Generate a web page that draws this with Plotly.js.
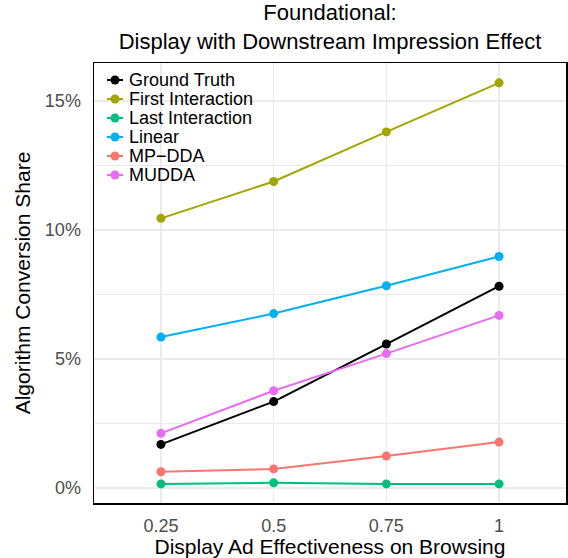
<!DOCTYPE html>
<html>
<head>
<meta charset="utf-8">
<script src="https://cdn.plot.ly/plotly-3.0.1.min.js"></script>
<style>html,body{margin:0;padding:0;background:#fff;}#chart{width:568px;height:558px;}</style>
</head>
<body>
<div id="chart"></div>
<script>
const categories = ["0.25", "0.5", "0.75", "1"];
const seriesNames = ["Ground Truth", "First Interaction", "Last Interaction", "Linear", "MP\u2212DDA", "MUDDA"];
const groundTruth = [1.69, 3.35, 5.58, 7.82];
const firstInteraction = [10.45, 11.88, 13.8, 15.7];
const lastInteraction = [0.16, 0.2, 0.16, 0.16];
const linear = [5.85, 6.76, 7.84, 8.97];
const mpDDA = [0.63, 0.74, 1.24, 1.78];
const mudda = [2.12, 3.77, 5.21, 6.69];
const yTickVals = [0, 5, 10, 15];
const yTickText = ["0%", "5%", "10%", "15%"];
const colors = ["#000000", "#A3A500", "#00BF7D", "#00B0F6", "#F8766D", "#E76BF3"];

const seriesValues = [groundTruth, firstInteraction, lastInteraction, linear, mpDDA, mudda];
const font = "Liberation Sans, Arial, sans-serif";

const W = 568, H = 558;
const M = {l: 94, r: 2, t: 63, b: 55};
const pw = W - M.l - M.r, ph = H - M.t - M.b;
const px2x = px => (px - M.l) / pw;
const py2y = py => 1 - (py - M.t) / ph;

const traces = seriesValues.map((vals, i) => ({
  type: "scatter",
  mode: "lines+markers",
  x: categories,
  y: vals,
  name: seriesNames[i],
  line: {color: colors[i], width: 2},
  marker: {color: colors[i], size: 9},
  showlegend: false
}));

// legend drawn as layout shapes + annotations (ggplot-style compact keys)
const shapes = [];
const annotations = [];
seriesNames.forEach((nm, i) => {
  const cy = 80 + 19 * i;
  shapes.push({type: "line", xref: "paper", yref: "paper",
    x0: px2x(107), x1: px2x(123), y0: py2y(cy), y1: py2y(cy),
    line: {color: colors[i], width: 2}});
  shapes.push({type: "circle", xref: "paper", yref: "paper",
    x0: px2x(110.5), x1: px2x(119.5), y0: py2y(cy - 4.5), y1: py2y(cy + 4.5),
    fillcolor: colors[i], line: {color: colors[i], width: 0}});
  annotations.push({xref: "paper", yref: "paper", x: px2x(127), y: py2y(cy),
    xanchor: "left", yanchor: "middle", showarrow: false, text: nm,
    font: {size: 18, family: font, color: "#000000"}});
});

const layout = {
  width: W,
  height: H,
  margin: M,
  paper_bgcolor: "#ffffff",
  plot_bgcolor: "#ffffff",
  font: {family: font, color: "#000000"},
  title: {
    text: "Foundational:<br>Display with Downstream Impression Effect",
    font: {size: 22, family: font, color: "#000000"},
    x: px2x(330), xref: "paper", xanchor: "center",
    yref: "container", y: 1 - 20 / H, yanchor: "bottom"
  },
  showlegend: false,
  shapes: shapes,
  annotations: annotations,
  xaxis: {
    type: "category",
    range: [-0.594, 3.594],
    showgrid: true,
    gridcolor: "#EBEBEB",
    gridwidth: 1.5,
    zeroline: false,
    showline: true,
    mirror: true,
    linecolor: "#000000",
    linewidth: 1.5,
    ticks: "outside",
    ticklen: 6,
    tickcolor: "rgba(0,0,0,0)",
    tickfont: {size: 18, family: font, color: "#4D4D4D"},
    title: {text: "Display Ad Effectiveness on Browsing", font: {size: 21, family: font, color: "#000000"}, standoff: 2}
  },
  yaxis: {
    range: [-0.58, 16.47],
    tickvals: yTickVals,
    ticktext: yTickText,
    showgrid: true,
    gridcolor: "#EBEBEB",
    gridwidth: 1.5,
    minor: {dtick: 2.5, tick0: 0, showgrid: true, gridcolor: "#EBEBEB", gridwidth: 1.2, ticks: ""},
    zeroline: false,
    showline: true,
    mirror: true,
    linecolor: "#000000",
    linewidth: 1.5,
    ticks: "outside",
    ticklen: 8,
    tickcolor: "rgba(0,0,0,0)",
    tickfont: {size: 18, family: font, color: "#4D4D4D"},
    title: {text: "Algorithm Conversion Share", font: {size: 21, family: font, color: "#000000"}, standoff: 8}
  }
};

Plotly.newPlot("chart", traces, layout, {displayModeBar: false, staticPlot: true});
</script>
</body>
</html>
